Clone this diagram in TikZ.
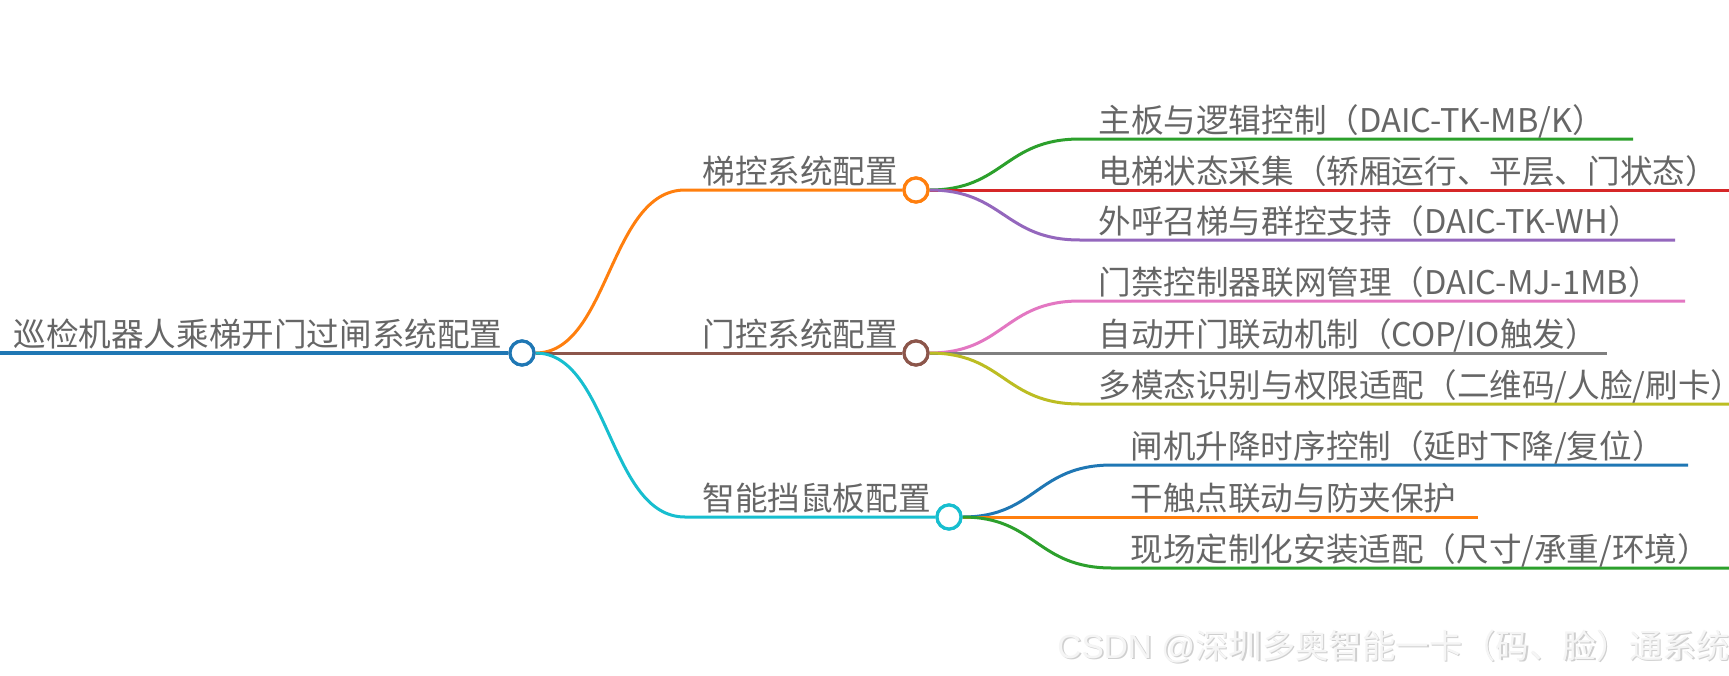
\documentclass[tikz,border=0pt]{standalone}
\usepackage{fontspec}
\setmainfont{Noto Sans CJK SC}
\newfontfamily\wmlat{Liberation Sans}
\definecolor{cblue}{HTML}{1F77B4}
\definecolor{corange}{HTML}{FF7F0E}
\definecolor{cbrown}{HTML}{8C564B}
\definecolor{ccyan}{HTML}{17BECF}
\definecolor{cgreen}{HTML}{2CA02C}
\definecolor{cred}{HTML}{D62728}
\definecolor{cpurple}{HTML}{9467BD}
\definecolor{cpink}{HTML}{E377C2}
\definecolor{cgray}{HTML}{7F7F7F}
\definecolor{colive}{HTML}{BCBD22}
\definecolor{txt}{HTML}{666666}
\begin{document}
\begin{tikzpicture}[x=0.5pt,y=-0.5pt,
  lbl/.style={anchor=base west,inner sep=0pt,text=txt,font=\fontsize{16.3pt}{18pt}\selectfont},
  hub/.style={circle,draw=#1,fill=white,line width=1.6pt,minimum size=12pt,inner sep=0pt},
  link/.style={draw=#1,line width=1.5pt},
  wmark/.style={anchor=base east,inner sep=0pt,font=\fontsize{16.7pt}{18pt}\selectfont}]
\useasboundingbox (0,0) rectangle (1729,675);
\fill[white] (0,0) rectangle (1729,675);

% hubs
\node[hub=cblue] (root) at (522,353) {};
\node[hub=corange] (n1) at (916,190) {};
\node[hub=cbrown] (n2) at (916,353) {};
\node[hub=ccyan] (n3) at (949,517) {};

% coordinates
\coordinate (rootL) at (0,353);
\coordinate (n1s) at (685,190);
\coordinate (n3s) at (685,517);
\coordinate (a1s) at (1080,139) ; \coordinate (a1e) at (1633,139);
\coordinate (a2s) at (1080,190) ; \coordinate (a2e) at (1729,190);
\coordinate (a3s) at (1080,240) ; \coordinate (a3e) at (1675,240);
\coordinate (b1s) at (1080,301) ; \coordinate (b1e) at (1685,301);
\coordinate (b2s) at (1080,353) ; \coordinate (b2e) at (1607,353);
\coordinate (b3s) at (1080,404) ; \coordinate (b3e) at (1729,404);
\coordinate (c1s) at (1112,465) ; \coordinate (c1e) at (1688,465);
\coordinate (c2s) at (1112,517) ; \coordinate (c2e) at (1478,517);
\coordinate (c3s) at (1112,568) ; \coordinate (c3e) at (1729,568);

% connectors
\draw[link=cblue,line width=1.7pt] (rootL) -- (root.west);
\draw[link=corange] (root.east) .. controls (609,353) and (609,190) .. (n1s) -- (n1.west);
\draw[link=cbrown] (root.east) -- (n2.west);
\draw[link=ccyan] (root.east) .. controls (609,353) and (609,517) .. (n3s) -- (n3.west);

\draw[link=cgreen] (n1.east) .. controls (1004,190) and (1004,139) .. (a1s) -- (a1e);
\draw[link=cred] (n1.east) -- (a2s) -- (a2e);
\draw[link=cpurple] (n1.east) .. controls (1004,190) and (1004,240) .. (a3s) -- (a3e);

\draw[link=cpink] (n2.east) .. controls (1004,353) and (1004,301) .. (b1s) -- (b1e);
\draw[link=cgray] (n2.east) -- (b2s) -- (b2e);
\draw[link=colive] (n2.east) .. controls (1004,353) and (1004,404) .. (b3s) -- (b3e);

\draw[link=cblue] (n3.east) .. controls (1036,517) and (1036,465) .. (c1s) -- (c1e);
\draw[link=corange] (n3.east) -- (c2s) -- (c2e);
\draw[link=cgreen] (n3.east) .. controls (1036,517) and (1036,568) .. (c3s) -- (c3e);

% redraw hubs on top
\node[hub=cblue] at (root) {};
\node[hub=corange] at (n1) {};
\node[hub=cbrown] at (n2) {};
\node[hub=ccyan] at (n3) {};

% labels
\node[lbl] (rootT) at (13,346) {巡检机器人乘梯开门过闸系统配置};
\node[lbl] (t1) at (702,183) {梯控系统配置};
\node[lbl] (t2) at (702,346) {门控系统配置};
\node[lbl] (t3) at (702,510) {智能挡鼠板配置};

\node[lbl] (ta1) at (1098,132) {主板与逻辑控制（DAIC-TK-MB/K）};
\node[lbl] (ta2) at (1098,183) {电梯状态采集（轿厢运行、平层、门状态）};
\node[lbl] (ta3) at (1098,233) {外呼召梯与群控支持（DAIC-TK-WH）};
\node[lbl] (tb1) at (1098,294) {门禁控制器联网管理（DAIC-MJ-1MB）};
\node[lbl] (tb2) at (1098,346) {自动开门联动机制（COP/IO触发）};
\node[lbl] (tb3) at (1098,397) {多模态识别与权限适配（二维码/人脸/刷卡）};
\node[lbl] (tc1) at (1130,458) {闸机升降时序控制（延时下降/复位）};
\node[lbl] (tc2) at (1130,510) {干触点联动与防夹保护};
\node[lbl] (tc3) at (1130,561) {现场定制化安装适配（尺寸/承重/环境）};

% watermark
\node[wmark,text=gray!38] (wms) at (1731.5,659.5) {{\wmlat CSDN @}深圳多奥智能一卡（码、脸）通系统};
\node[wmark,text=gray!8] (wm) at (1730,658) {{\wmlat CSDN @}深圳多奥智能一卡（码、脸）通系统};
\end{tikzpicture}
\end{document}
